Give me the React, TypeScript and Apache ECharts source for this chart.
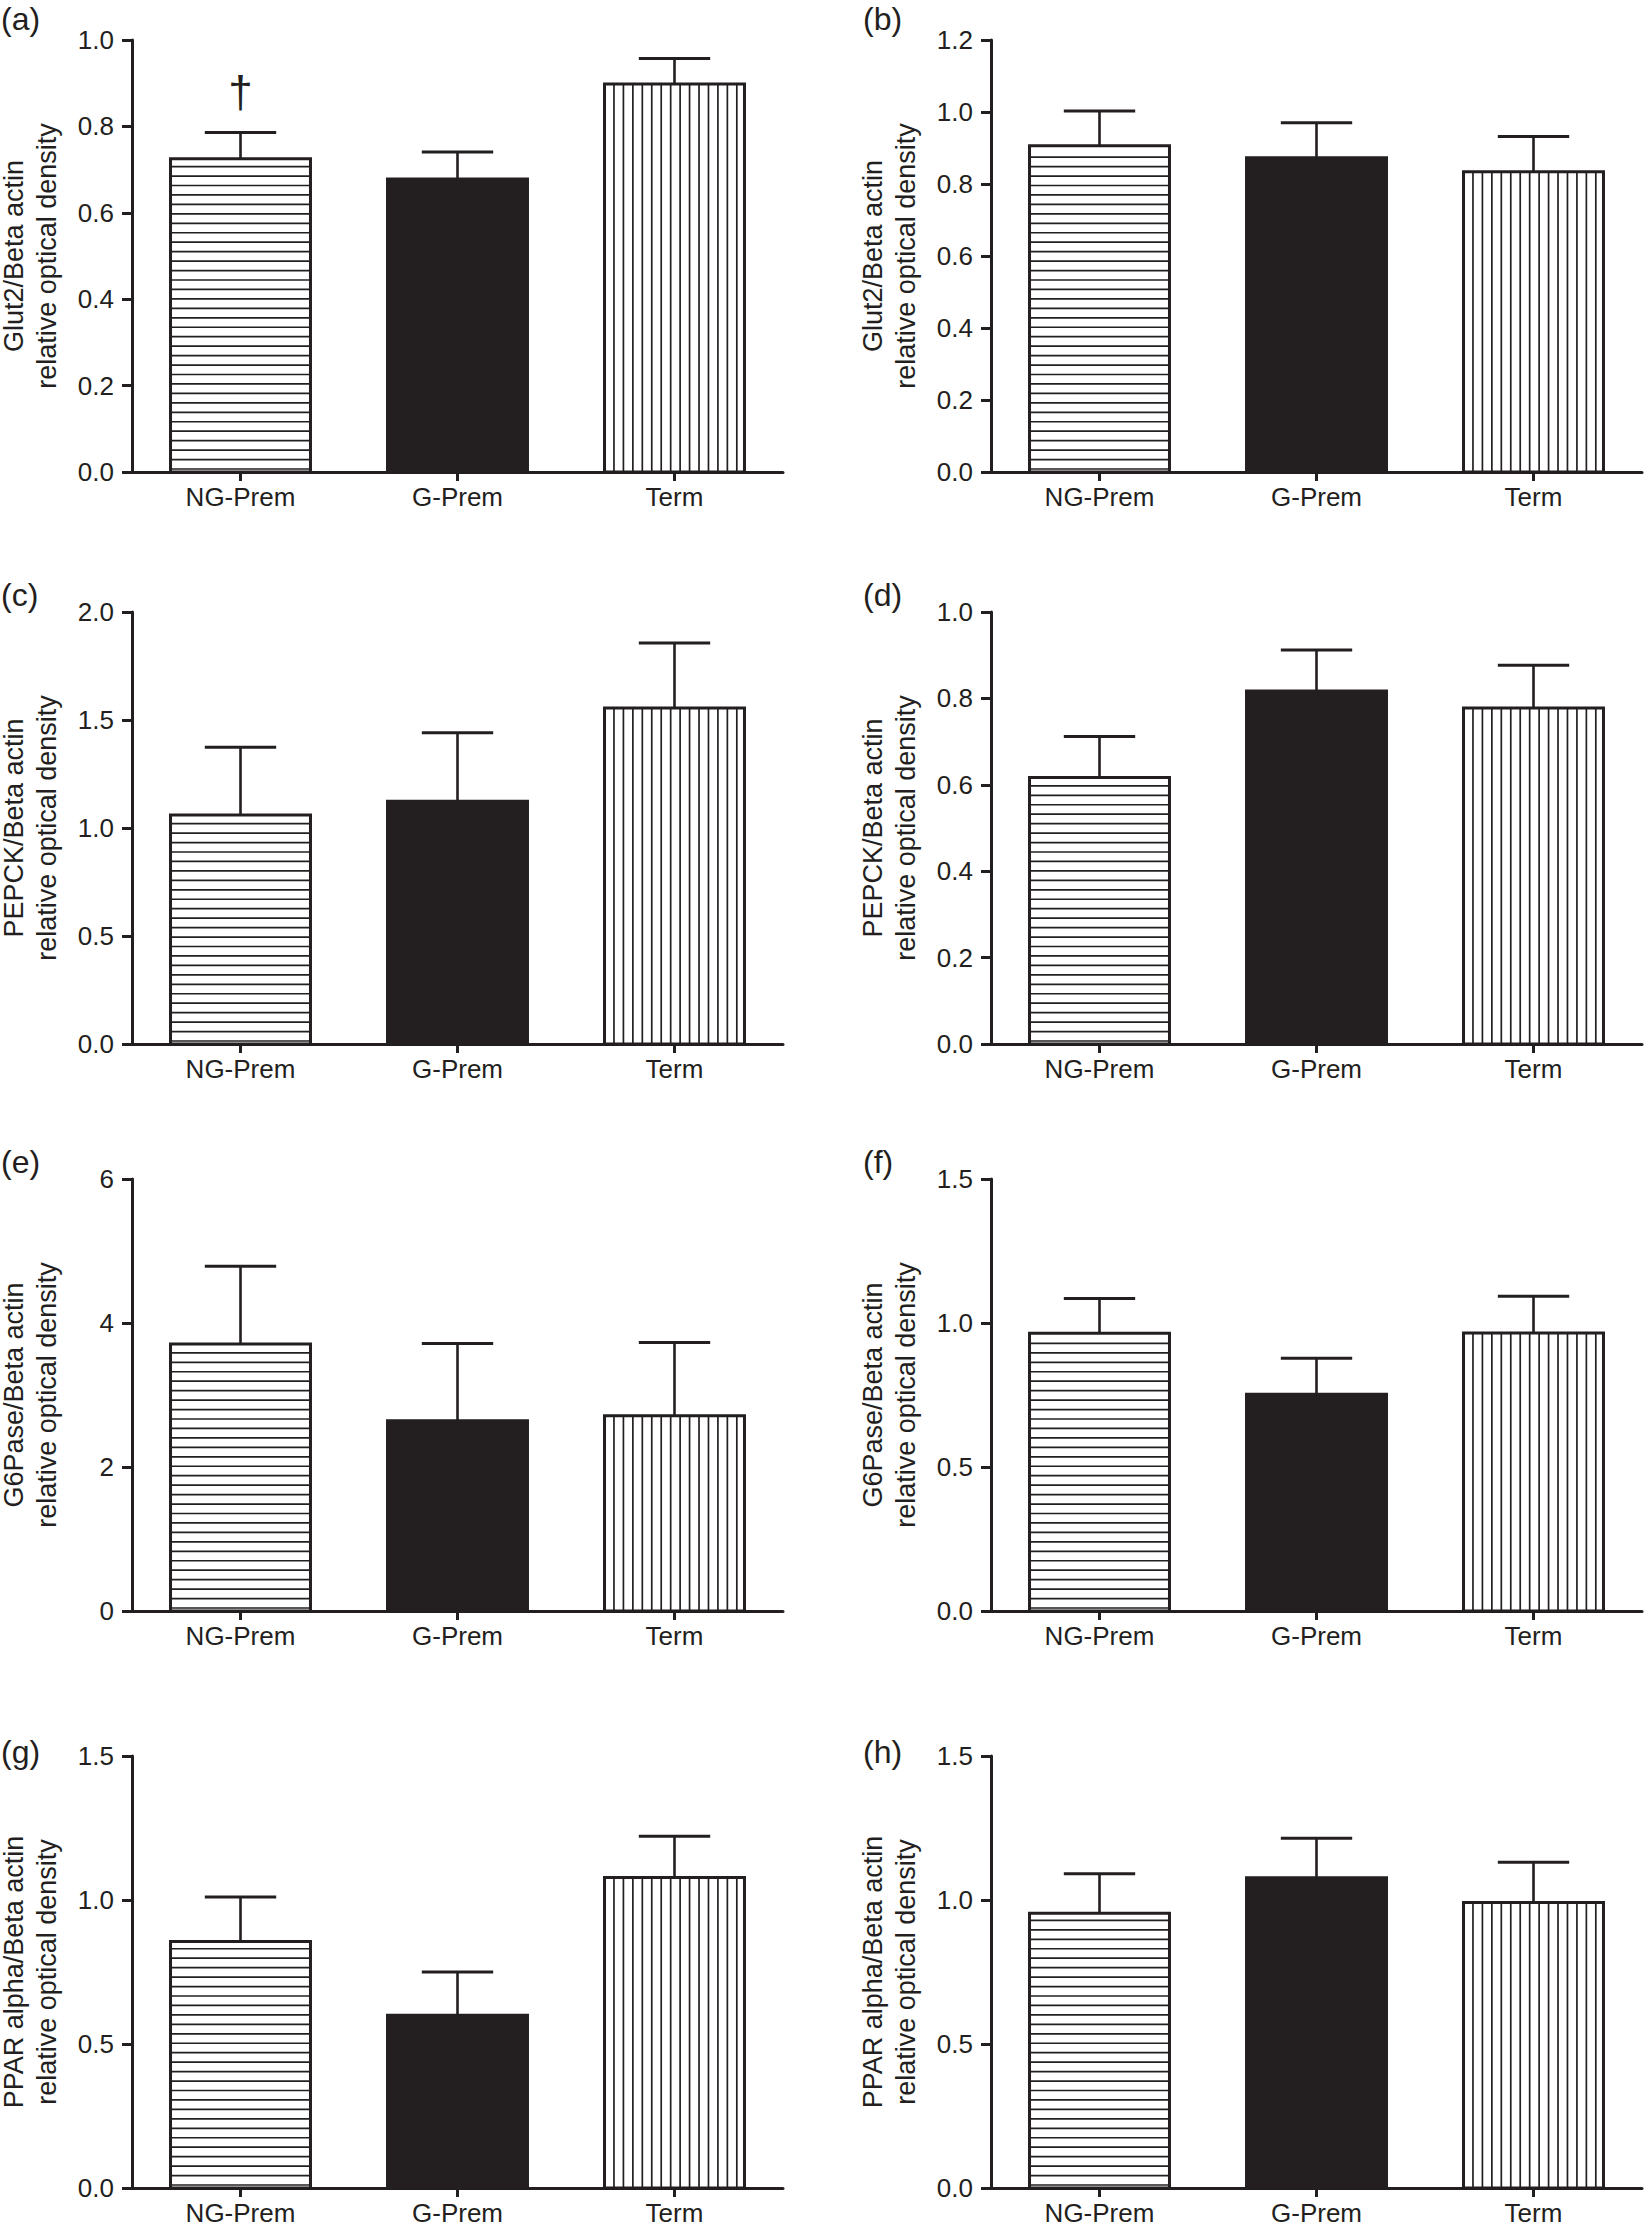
import React, { useEffect, useRef } from "react";
import * as echarts from "echarts";

// ---------- data ----------
const categories = ["NG-Prem", "G-Prem", "Term"];

const panelLetters = ["(a)", "(b)", "(c)", "(d)", "(e)", "(f)", "(g)", "(h)"];

const yTitles = [
  "Glut2/Beta actin\nrelative optical density",
  "Glut2/Beta actin\nrelative optical density",
  "PEPCK/Beta actin\nrelative optical density",
  "PEPCK/Beta actin\nrelative optical density",
  "G6Pase/Beta actin\nrelative optical density",
  "G6Pase/Beta actin\nrelative optical density",
  "PPAR alpha/Beta actin\nrelative optical density",
  "PPAR alpha/Beta actin\nrelative optical density",
];

const yMax = [1.0, 1.2, 2.0, 1.0, 6, 1.5, 1.5, 1.5];
const yStep = [0.2, 0.2, 0.5, 0.2, 2, 0.5, 0.5, 0.5];
const yDecimals = [1, 1, 1, 1, 0, 1, 1, 1];

// mean and SEM per group (NG-Prem, G-Prem, Term)
const glut2AMean = [0.725, 0.678, 0.898];
const glut2ASem = [0.061, 0.063, 0.059];
const glut2BMean = [0.906, 0.873, 0.834];
const glut2BSem = [0.097, 0.097, 0.098];
const pepckCMean = [1.06, 1.124, 1.555];
const pepckCSem = [0.314, 0.317, 0.302];
const pepckDMean = [0.617, 0.817, 0.778];
const pepckDSem = [0.095, 0.095, 0.099];
const g6paseEMean = [3.709, 2.644, 2.711];
const g6paseESem = [1.078, 1.07, 1.017];
const g6paseFMean = [0.964, 0.753, 0.965];
const g6paseFSem = [0.121, 0.125, 0.128];
const pparGMean = [0.856, 0.6, 1.078];
const pparGSem = [0.154, 0.15, 0.143];
const pparHMean = [0.954, 1.077, 0.991];
const pparHSem = [0.137, 0.137, 0.14];

// significance marks above error bars
const marksA = ["\u2020", "", ""];
const noMarks = ["", "", ""];

const panelMeans = [glut2AMean, glut2BMean, pepckCMean, pepckDMean, g6paseEMean, g6paseFMean, pparGMean, pparHMean];
const panelSems = [glut2ASem, glut2BSem, pepckCSem, pepckDSem, g6paseESem, g6paseFSem, pparGSem, pparHSem];
const panelMarks = [marksA, noMarks, noMarks, noMarks, noMarks, noMarks, noMarks, noMarks];

// ---------- style / layout ----------
const INK = "#231f20";
const FONT = "'Liberation Sans', Arial, Helvetica, sans-serif";
const fillKinds = ["horizontal", "solid", "vertical"];
const COL_LEFT = [132, 991];
const GRID_W = 651;
const ROW_TOP = [40, 612, 1179, 1756];
const GRID_H = 432;
const LETTER_POS = [
  [1, 3], [863, 3],
  [1, 579], [863, 579],
  [1, 1146], [863, 1146],
  [1, 1736], [863, 1736],
];
const BAR_FRAC = 0.645;
const HATCH = 9.45;

function renderBar(params: any, api: any) {
  const ci = api.value(0);
  const v = api.value(1);
  const top = api.coord([ci, v]);
  const base = api.coord([ci, 0]);
  const band = api.size([1, 0])[0];
  const w = band * BAR_FRAC;
  const x0 = top[0] - w / 2;
  const y0 = top[1];
  const h = base[1] - top[1];
  const kind = fillKinds[ci];
  const children: any[] = [];
  children.push({
    type: "rect",
    shape: { x: x0, y: y0, width: w, height: h },
    style: { fill: kind === "solid" ? INK : "#ffffff" },
  });
  if (kind === "horizontal") {
    for (let y = base[1] - 3; y > y0 + HATCH * 0.5; y -= HATCH) {
      children.push({
        type: "line",
        shape: { x1: x0, y1: y, x2: x0 + w, y2: y },
        style: { stroke: INK, lineWidth: 1.7 },
      });
    }
  } else if (kind === "vertical") {
    for (let x = x0 + HATCH; x < x0 + w - HATCH * 0.5; x += HATCH) {
      children.push({
        type: "line",
        shape: { x1: x, y1: y0, x2: x, y2: base[1] },
        style: { stroke: INK, lineWidth: 1.7 },
      });
    }
  }
  children.push({
    type: "rect",
    shape: { x: x0, y: y0, width: w, height: h },
    style: { fill: "none", stroke: INK, lineWidth: 3 },
  });
  return { type: "group", children };
}

function makeErrRenderer(marks: string[]) {
  return function (params: any, api: any) {
    const ci = api.value(0);
    const lo = api.coord([ci, api.value(1)]);
    const hi = api.coord([ci, api.value(2)]);
    const band = api.size([1, 0])[0];
    const capW = band * BAR_FRAC * 0.51;
    const children: any[] = [
      {
        type: "line",
        shape: { x1: lo[0], y1: lo[1], x2: hi[0], y2: hi[1] },
        style: { stroke: INK, lineWidth: 2.6 },
      },
      {
        type: "line",
        shape: { x1: hi[0] - capW / 2, y1: hi[1], x2: hi[0] + capW / 2, y2: hi[1] },
        style: { stroke: INK, lineWidth: 3 },
      },
    ];
    const m = marks[ci];
    if (m) {
      children.push({
        type: "text",
        x: hi[0],
        y: hi[1] - 19,
        style: {
          text: m,
          fontSize: 44,
          fontFamily: FONT,
          fill: INK,
          align: "center",
          verticalAlign: "bottom",
        },
      });
    }
    return { type: "group", children };
  };
}

function buildOption() {
  const grid: any[] = [];
  const xAxis: any[] = [];
  const yAxis: any[] = [];
  const series: any[] = [];
  const graphic: any[] = [];
  for (let i = 0; i < 8; i++) {
    const col = i % 2;
    const row = Math.floor(i / 2);
    grid.push({
      left: COL_LEFT[col],
      top: ROW_TOP[row],
      width: GRID_W,
      height: GRID_H,
      containLabel: false,
      outerBoundsMode: "none",
    });
    xAxis.push({
      type: "category",
      gridIndex: i,
      data: categories,
      boundaryGap: true,
      axisLine: { show: true, lineStyle: { color: INK, width: 3 } },
      axisTick: { show: true, alignWithLabel: true, length: 9, lineStyle: { color: INK, width: 3 } },
      axisLabel: { margin: 12, fontSize: 26, color: INK, fontFamily: FONT },
      splitLine: { show: false },
    });
    const dec = yDecimals[i];
    yAxis.push({
      type: "value",
      gridIndex: i,
      min: 0,
      max: yMax[i],
      interval: yStep[i],
      name: yTitles[i],
      nameLocation: "middle",
      nameRotate: 90,
      nameGap: 69,
      nameTextStyle: { fontSize: 27, color: INK, fontFamily: FONT, lineHeight: 33, align: "center" },
      axisLine: { show: true, lineStyle: { color: INK, width: 3 } },
      axisTick: { show: true, length: 10, lineStyle: { color: INK, width: 3 } },
      axisLabel: {
        margin: 18,
        fontSize: 26,
        color: INK,
        fontFamily: FONT,
        formatter: (v: number) => v.toFixed(dec),
      },
      splitLine: { show: false },
    });
    const means = panelMeans[i];
    const sems = panelSems[i];
    series.push({
      type: "custom",
      xAxisIndex: i,
      yAxisIndex: i,
      renderItem: renderBar,
      encode: { x: 0, y: 1 },
      data: means.map((m, k) => [k, m]),
      z: 2,
    });
    series.push({
      type: "custom",
      xAxisIndex: i,
      yAxisIndex: i,
      renderItem: makeErrRenderer(panelMarks[i]),
      encode: { x: 0, y: [1, 2] },
      data: means.map((m, k) => [k, m, m + sems[k]]),
      z: 3,
    });
    graphic.push({
      type: "text",
      left: LETTER_POS[i][0],
      top: LETTER_POS[i][1],
      style: { text: panelLetters[i], fontSize: 32, fontFamily: FONT, fill: INK },
    });
  }
  return {
    animation: false,
    backgroundColor: "#ffffff",
    grid,
    xAxis,
    yAxis,
    series,
    graphic,
  };
}

export default function App() {
  const ref = useRef<HTMLDivElement>(null);
  useEffect(() => {
    if (!ref.current) return;
    const chart = echarts.init(ref.current, undefined, { renderer: "svg" });
    chart.setOption(buildOption() as any);
    return () => chart.dispose();
  }, []);
  return (
    <div
      ref={ref}
      style={{ position: "absolute", left: 0, top: 0, width: 1644, height: 2227, background: "#fff" }}
    />
  );
}
